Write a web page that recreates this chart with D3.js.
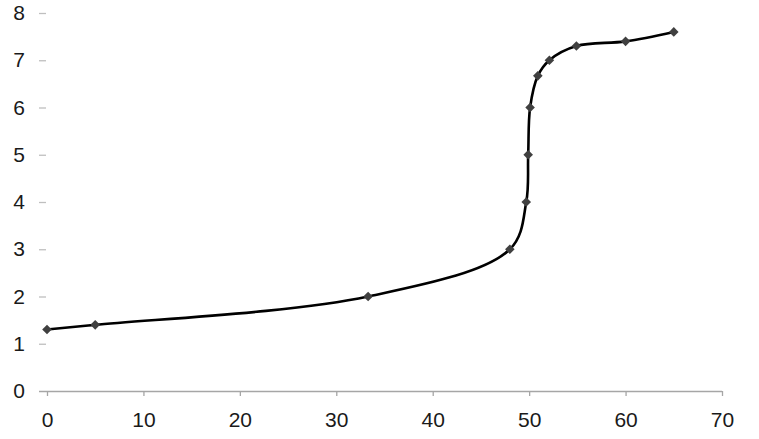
<!DOCTYPE html>
<html><head><meta charset="utf-8">
<script src="https://cdn.jsdelivr.net/npm/d3@7"></script>
<style>
html,body{margin:0;padding:0;background:#fff;}
text{font-family:"Liberation Sans","DejaVu Sans",sans-serif;}
</style></head>
<body>
<svg id="c" width="759" height="439"></svg>
<script>
const xValues = [0, 5, 33.3, 48, 49.7, 49.9, 50.1, 50.9, 52.1, 54.9, 60, 65];
const yValues = [1.3, 1.4, 2, 3, 4, 5, 6, 6.67, 7, 7.3, 7.4, 7.6];
const xTicks = [0, 10, 20, 30, 40, 50, 60, 70];
const yTicks = [0, 1, 2, 3, 4, 5, 6, 7, 8];

const W = 759, H = 439;
const m = {left: 47, right: 37, top: 13, bottom: 48};
const svg = d3.select("#c");
const x = d3.scaleLinear().domain([0, 70]).range([m.left, W - m.right]);
const y = d3.scaleLinear().domain([0, 8]).range([H - m.bottom, m.top]);
const FONT = "'Liberation Sans', Arial, sans-serif";

// x axis
const gx = svg.append("g").attr("transform", `translate(0,${y(0)})`)
  .call(d3.axisBottom(x).tickValues(xTicks).tickSize(5).tickPadding(16).tickSizeOuter(0));
gx.select(".domain").attr("stroke", "#a6a6a6").attr("stroke-width", 1.3)
  .attr("d", `M${m.left - 8},0.5H${W - m.right}`);
gx.selectAll(".tick line").attr("stroke", "#a6a6a6").attr("stroke-width", 1.3);
gx.selectAll(".tick text").attr("fill", "#1a1a1a").attr("font-size", 21)
  .attr("font-family", FONT);

// y axis (tick dashes only)
const gy = svg.append("g").attr("transform", `translate(${m.left - 1},0)`)
  .call(d3.axisLeft(y).tickValues(yTicks).tickSize(7).tickPadding(14));
gy.select(".domain").remove();
gy.selectAll(".tick line").attr("stroke", "#bfbfbf").attr("stroke-width", 1.3);
gy.selectAll(".tick").filter(d => d === 0).select("line").remove();
gy.selectAll(".tick text").attr("fill", "#1a1a1a").attr("font-size", 21)
  .attr("font-family", FONT);

const data = xValues.map((v, i) => [v, yValues[i]]);
const line = d3.line().x(d => x(d[0])).y(d => y(d[1])).curve(d3.curveCatmullRom.alpha(0.5));
svg.append("path").datum(data).attr("d", line)
  .attr("fill", "none").attr("stroke", "#000").attr("stroke-width", 2.6);

svg.append("g").selectAll("path").data(data).join("path")
  .attr("d", d3.symbol(d3.symbolSquare, 46))
  .attr("transform", d => `translate(${x(d[0])},${y(d[1])}) rotate(45)`)
  .attr("fill", "#404040");
</script>
</body></html>
